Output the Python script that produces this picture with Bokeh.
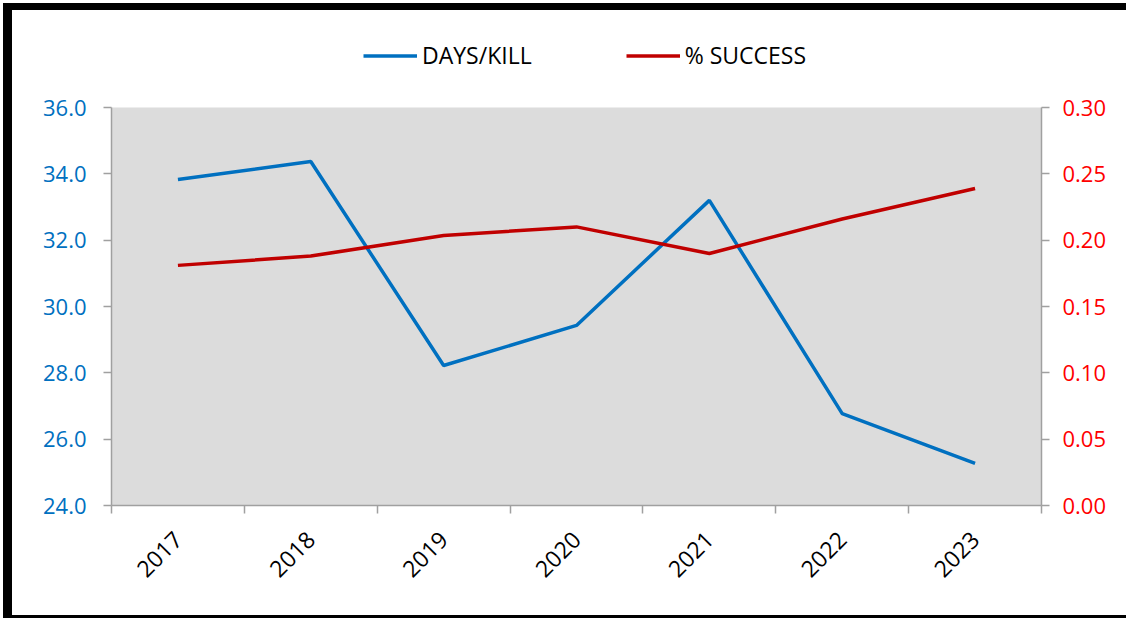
import math
from bokeh.plotting import figure
from bokeh.layouts import column
from bokeh.models import (Range1d, LinearAxis, FixedTicker, NumeralTickFormatter,
                          Legend, LegendItem, ColumnDataSource, BoxAnnotation)
from bokeh.embed import file_html
from bokeh.resources import INLINE

# ---- data ----
years = ["2017", "2018", "2019", "2020", "2021", "2022", "2023"]
days_per_kill = [33.83, 34.37, 28.22, 29.43, 33.20, 26.77, 25.27]
pct_success = [0.181, 0.188, 0.2035, 0.210, 0.190, 0.216, 0.239]
left_ticks = [24, 26, 28, 30, 32, 34, 36]
right_ticks = [0.00, 0.05, 0.10, 0.15, 0.20, 0.25, 0.30]

BLUE = "#0070C0"
RED = "#C00000"
AXIS_GRAY = "#A0A0A0"
FONT = "Open Sans"

# layout (pixels)
W, H = 1114, 605
MB_LEFT, MB_RIGHT, MB_TOP, MB_BOTTOM = 99, 85, 5, 110
DATA_PX = 398  # pixel height of the grey plotting area
frame_px = H - MB_TOP - MB_BOTTOM
scale = frame_px / DATA_PX

n = len(years)
centers = [i + 0.5 for i in range(n)]
src = ColumnDataSource(dict(x=centers, days=days_per_kill, pct=pct_success))

y0, y1 = left_ticks[0], left_ticks[-1]
r0, r1 = right_ticks[0], right_ticks[-1]

p = figure(width=W, height=H, output_backend="svg", toolbar_location=None,
           x_range=Range1d(0, n), y_range=Range1d(y0, y0 + (y1 - y0) * scale),
           min_border_left=MB_LEFT, min_border_right=MB_RIGHT,
           min_border_top=MB_TOP, min_border_bottom=MB_BOTTOM,
           background_fill_color="white", border_fill_color="white",
           outline_line_color=None)
p.extra_y_ranges = {"pct": Range1d(r0, r0 + (r1 - r0) * scale)}
p.grid.visible = False

# grey plotting area
p.add_layout(BoxAnnotation(left=0, right=n, bottom=y0, top=y1, fill_color="#DCDCDC",
                           fill_alpha=1, line_color=None, level="underlay"))

# x axis: labels at category centres, ticks at category boundaries
xa = p.xaxis[0]
xa.ticker = FixedTicker(ticks=centers, minor_ticks=list(range(n + 1)))
xa.major_label_overrides = {c: y for c, y in zip(centers, years)}
xa.major_tick_out = 0
xa.major_tick_in = 0
xa.minor_tick_out = 8
xa.minor_tick_in = 0
xa.minor_tick_line_color = AXIS_GRAY
xa.minor_tick_line_width = 1.5
xa.axis_line_color = AXIS_GRAY
xa.axis_line_width = 1.5
xa.major_label_orientation = math.pi / 4
xa.major_label_standoff = 22
xa.major_label_text_font = FONT
xa.major_label_text_font_size = "23px"
xa.major_label_text_color = "black"

# left axis
ya = p.yaxis[0]
ya.ticker = FixedTicker(ticks=left_ticks)
ya.bounds = (y0, y1)
ya.formatter = NumeralTickFormatter(format="0.0")
ya.major_tick_out = 8
ya.major_tick_in = 0
ya.minor_tick_line_color = None
ya.major_tick_line_color = AXIS_GRAY
ya.major_tick_line_width = 1.5
ya.axis_line_color = AXIS_GRAY
ya.axis_line_width = 1.5
ya.major_label_standoff = 17
ya.major_label_text_font = FONT
ya.major_label_text_font_size = "22px"
ya.major_label_text_color = BLUE

# right axis
ra = LinearAxis(y_range_name="pct", ticker=FixedTicker(ticks=right_ticks),
                formatter=NumeralTickFormatter(format="0.00"), bounds=(r0, r1))
ra.major_tick_out = 8
ra.major_tick_in = 0
ra.minor_tick_line_color = None
ra.major_tick_line_color = AXIS_GRAY
ra.major_tick_line_width = 1.5
ra.axis_line_color = AXIS_GRAY
ra.axis_line_width = 1.5
ra.major_label_standoff = 13
ra.major_label_text_font = FONT
ra.major_label_text_font_size = "22px"
ra.major_label_text_color = "#FF0000"
p.add_layout(ra, "right")

l1 = p.line("x", "days", source=src, line_color=BLUE, line_width=3.5)
l2 = p.line("x", "pct", source=src, y_range_name="pct", line_color=RED, line_width=3.5)

legend = Legend(items=[LegendItem(label="DAYS/KILL", renderers=[l1]),
                       LegendItem(label="% SUCCESS", renderers=[l2])],
                orientation="horizontal", location=(252, 434),
                background_fill_alpha=0, border_line_color=None,
                padding=0, margin=0, spacing=94, glyph_width=54, glyph_height=23,
                label_standoff=5, label_height=23,
                label_text_font=FONT, label_text_font_size="23px", label_text_color="black")
p.add_layout(legend, "center")

layout = column(p, styles={"border-left": "9px solid black", "border-top": "7px solid black",
                           "border-bottom": "3px solid black", "border-right": "none",
                           "margin-left": "3px", "margin-top": "3px",
                           "box-sizing": "content-box"})

open("out.html", "w").write(file_html(layout, INLINE))
